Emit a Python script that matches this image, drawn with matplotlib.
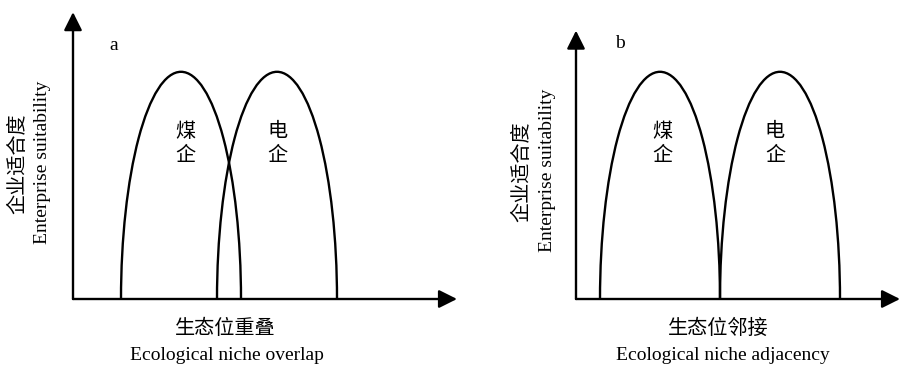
import matplotlib
matplotlib.use("Agg")
import matplotlib.pyplot as plt
from matplotlib.patches import Arc

# ---- data ----
panels = ["a", "b"]
# arch feet (left, right) along niche axis, and peak suitability
coal_a = (2.0, 7.0)
elec_a = (6.0, 11.0)
coal_b = (1.0, 6.0)
elec_b = (6.0, 11.0)
peak_height = 8.0
arch_labels = ["煤\n企", "电\n企"]
ylabel_cn = "企业适合度"
ylabel_en = "Enterprise suitability"
xlabel_cn = ["生态位重叠", "生态位邻接"]
xlabel_en = ["Ecological niche overlap", "Ecological niche adjacency"]
x_extent = [16.0, 13.5]
y_extent = [10.1, 9.45]

W, H = 901, 366
fig = plt.figure(figsize=(W / 100, H / 100), dpi=100)
CN = ["Noto Sans CJK SC", "DejaVu Sans"]
EN = ["Liberation Serif", "DejaVu Serif"]
FS_CN = 14.5
FS_EN = 14

px_x = 24.0   # pixels per x unit
px_y = 28.4   # pixels per y unit
origins = [(73, 299), (576, 299)]
arches = [[coal_a, elec_a], [coal_b, elec_b]]
label_pos = [[(4.67, 5.48), (8.5, 5.48)], [(3.58, 5.48), (8.29, 5.48)]]
panel_letter_pos = [(1.7, 8.94), (1.83, 9.0)]

for i in range(2):
    ox, oy = origins[i]
    wpx = x_extent[i] * px_x
    hpx = y_extent[i] * px_y
    ax = fig.add_axes([ox / W, (H - oy) / H, wpx / W, hpx / H])
    ax.set_xlim(0, x_extent[i])
    ax.set_ylim(0, y_extent[i])
    ax.axis("off")
    # axes arrows
    ap = dict(arrowstyle="-|>,head_length=1.1,head_width=0.55", lw=1.7,
              color="black", shrinkA=0, shrinkB=0, mutation_scale=10)
    ax.annotate("", xy=(x_extent[i], 0), xytext=(0, 0), arrowprops=ap,
                annotation_clip=False)
    ax.annotate("", xy=(0, y_extent[i]), xytext=(0, 0), arrowprops=ap,
                annotation_clip=False)
    # arches (half ellipses)
    for (l, r) in arches[i]:
        arc = Arc(((l + r) / 2, 0), r - l, 2 * peak_height, theta1=0, theta2=180,
                  lw=1.7, color="black", clip_on=False)
        ax.add_patch(arc)
    for (tx, ty), lab in zip(label_pos[i], arch_labels):
        ax.text(tx, ty, lab, family=CN, fontsize=FS_CN, ha="center", va="center",
                linespacing=1.15)
    lx, ly = panel_letter_pos[i]
    ax.text(lx, ly, panels[i], family=EN, fontsize=FS_EN, ha="center", va="center")

# axis labels (figure coordinates from pixel positions)
ycn_x = [18, 522]
yen_x = [43, 547]
ycn_y = [164, 172]
yen_y = [162, 170]
xl_x = [225, 718]
xen_x = [227, 723]
for i in range(2):
    fig.text(ycn_x[i] / W, 1 - ycn_y[i] / H, ylabel_cn, family=CN, fontsize=FS_CN,
             rotation=90, ha="center", va="center")
    fig.text(yen_x[i] / W, 1 - yen_y[i] / H, ylabel_en, family=EN, fontsize=FS_EN,
             rotation=90, ha="center", va="center")
    fig.text(xl_x[i] / W, 1 - 328 / H, xlabel_cn[i], family=CN, fontsize=FS_CN,
             ha="center", va="center")
    fig.text(xen_x[i] / W, 1 - 355 / H, xlabel_en[i], family=EN, fontsize=FS_EN,
             ha="center", va="center")

fig.savefig("out.png", dpi=100)
